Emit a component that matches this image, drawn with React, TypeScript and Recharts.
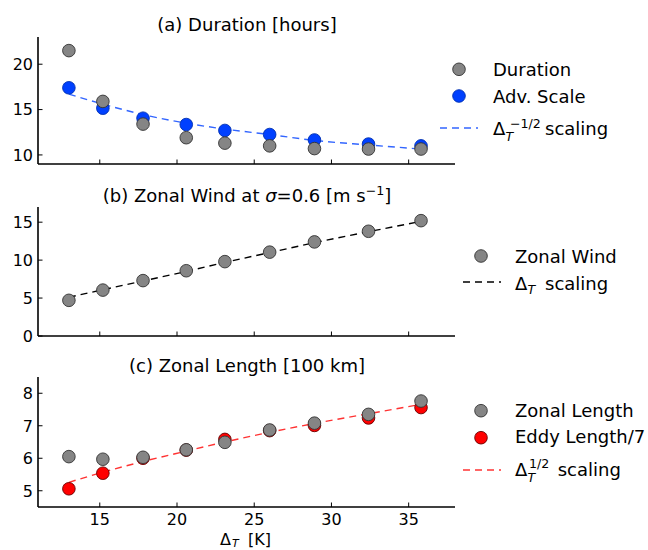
import { ComposedChart, Scatter, Line, XAxis, YAxis, Legend } from 'recharts';

// temperature contrast (x) shared by all three panels
const deltaT = [13.0, 15.2, 17.8, 20.6, 23.1, 26.0, 28.9, 32.4, 35.8];
const xTicks = [15, 20, 25, 30, 35];

// (a) duration [hours]
const duration = [21.5, 15.9, 13.4, 11.9, 11.3, 11.0, 10.7, 10.65, 10.65];
const advScale = [17.4, 15.15, 14.05, 13.35, 12.7, 12.25, 11.65, 11.2, 11.0];
const durationFit = [16.7, 15.6, 14.45, 13.5, 12.85, 12.25, 11.6, 11.1, 10.65];

// (b) zonal wind [m/s]
const zonalWind = [4.7, 6.05, 7.3, 8.6, 9.8, 11.05, 12.4, 13.8, 15.2];
const windFit = [5.1, 6.1, 7.25, 8.5, 9.7, 11.0, 12.3, 13.75, 15.1];

// (c) zonal length [100 km]
const zonalLength = [6.05, 5.97, 6.03, 6.26, 6.49, 6.87, 7.08, 7.35, 7.76];
const eddyLength = [5.06, 5.54, 6.0, 6.25, 6.58, 6.85, 7.01, 7.24, 7.56];
const lengthFit = [5.26, 5.57, 5.9, 6.22, 6.5, 6.8, 7.07, 7.37, 7.66];

const rows = deltaT.map((x, i) => ({
  x,
  duration: duration[i],
  advScale: advScale[i],
  durationFit: durationFit[i],
  zonalWind: zonalWind[i],
  windFit: windFit[i],
  zonalLength: zonalLength[i],
  eddyLength: eddyLength[i],
  lengthFit: lengthFit[i],
}));

const FONT = '"DejaVu Sans", sans-serif';
const GRAY = '#858585';
const BLUE = '#0040ff';
const BLUE_LINE = '#3366ff';
const RED = '#ff0000';
const RED_LINE = '#ff3333';
const DASH = '7 5';
const axisStyle = { stroke: '#000', strokeWidth: 1.6 };

const makeDot = (fill: string, stroke: string) => (props: any) =>
  <circle cx={props.cx} cy={props.cy} r={6.3} fill={fill} stroke={stroke} strokeWidth={0.9} />;

const grayDot = makeDot(GRAY, '#333');
const blueDot = makeDot(BLUE, '#0030b0');
const redDot = makeDot(RED, '#600');

const XTick = (props: any) => {
  const { x, y, payload, show } = props;
  return (
    <g>
      <line x1={x} x2={x} y1={y} y2={y - 4.5} stroke="#000" strokeWidth={1} />
      {show && (
        <text x={x} y={y + 17.5} textAnchor="middle" fontSize={16} fontFamily={FONT} fill="#000">
          {payload.value}
        </text>
      )}
    </g>
  );
};

const YTick = (props: any) => {
  const { x, y, payload } = props;
  return (
    <g>
      <line x1={x} x2={x + 4.5} y1={y} y2={y} stroke="#000" strokeWidth={1} />
      <text x={x - 5} y={y + 5.8} textAnchor="end" fontSize={16} fontFamily={FONT} fill="#000">
        {payload.value}
      </text>
    </g>
  );
};

const txt = { fontFamily: FONT, fill: '#000' };

function LegendDot({ cx, cy, fill, stroke }: any) {
  return <circle cx={cx} cy={cy} r={6.3} fill={fill} stroke={stroke} strokeWidth={0.9} />;
}

function Panel({ top, height, plotTop, plotBottom, yDomain, yTicks, showX, overlay, children }: any) {
  return (
    <div style={{ position: 'absolute', left: 0, top }}>
      <ComposedChart
        width={648}
        height={height}
        data={rows}
        margin={{ top: plotTop - top, right: 193, bottom: top + height - plotBottom - 1, left: 0 }}
      >
        <XAxis
          type="number"
          dataKey="x"
          domain={[11, 38]}
          ticks={xTicks}
          interval={0}
          height={1}
          tickSize={0}
          tickMargin={0}
          tickLine={false}
          axisLine={axisStyle}
          tick={<XTick show={showX} />}
        />
        <YAxis
          type="number"
          domain={yDomain}
          ticks={yTicks}
          interval={0}
          width={38}
          tickSize={0}
          tickMargin={0}
          tickLine={false}
          axisLine={axisStyle}
          tick={<YTick />}
        />
        {children}
        <Legend
          layout="vertical"
          align="center"
          verticalAlign="middle"
          wrapperStyle={{ left: 0, top: 0, width: 648, height, pointerEvents: 'none' }}
          content={() => (
            <svg width={648} height={height} style={{ display: 'block' }}>
              <g transform={`translate(0, ${-top})`}>{overlay}</g>
            </svg>
          )}
        />
      </ComposedChart>
    </div>
  );
}

const overlayA = (
  <g>
    <text x={247} y={30.7} textAnchor="middle" fontSize={18} {...txt}>(a) Duration [hours]</text>
    <LegendDot cx={459} cy={69.3} fill={GRAY} stroke="#333" />
    <text x={493} y={76} fontSize={18} {...txt}>Duration</text>
    <LegendDot cx={459} cy={96} fill={BLUE} stroke="#0030b0" />
    <text x={493} y={102.5} fontSize={18} {...txt}>Adv. Scale</text>
    <line x1={440} x2={478} y1={128} y2={128} stroke={BLUE_LINE} strokeWidth={1.4} strokeDasharray={DASH} />
    <text fontSize={18} {...txt}>
      <tspan x={493} y={134.5}>Δ</tspan>
      <tspan x={505.5} y={141} fontSize={12.6} fontStyle="italic">T</tspan>
      <tspan x={510} y={127.5} fontSize={12.6}>−1/2</tspan>
      <tspan x={545} y={134.5}>scaling</tspan>
    </text>
  </g>
);

const overlayB = (
  <g>
    <text x={247} y={201.7} textAnchor="middle" fontSize={18} {...txt}>
      (b) Zonal Wind at <tspan fontStyle="italic">σ</tspan>=0.6 [m s
      <tspan dy={-7} fontSize={12.6}>−1</tspan>
      <tspan dy={7}>]</tspan>
    </text>
    <LegendDot cx={481} cy={256} fill={GRAY} stroke="#333" />
    <text x={515} y={262.7} fontSize={18} {...txt}>Zonal Wind</text>
    <line x1={463} x2={501} y1={282} y2={282} stroke="#000" strokeWidth={1.4} strokeDasharray={DASH} />
    <text fontSize={18} {...txt}>
      <tspan x={515} y={290}>Δ</tspan>
      <tspan x={527.5} y={293.5} fontSize={12.6} fontStyle="italic">T</tspan>
      <tspan x={545} y={290}>scaling</tspan>
    </text>
  </g>
);

const overlayC = (
  <g>
    <text x={247} y={372.3} textAnchor="middle" fontSize={18} {...txt}>(c) Zonal Length [100 km]</text>
    <LegendDot cx={481} cy={410.7} fill={GRAY} stroke="#333" />
    <text x={515} y={416.7} fontSize={18} {...txt}>Zonal Length</text>
    <LegendDot cx={481} cy={437.7} fill={RED} stroke="#600" />
    <text x={515} y={443.3} fontSize={18} {...txt}>Eddy Length/7</text>
    <line x1={463} x2={501} y1={470} y2={470} stroke={RED_LINE} strokeWidth={1.4} strokeDasharray={DASH} />
    <text fontSize={18} {...txt}>
      <tspan x={515} y={476}>Δ</tspan>
      <tspan x={527.5} y={481.5} fontSize={12.6} fontStyle="italic">T</tspan>
      <tspan x={529} y={468} fontSize={12.6}>1/2</tspan>
      <tspan x={557.7} y={476}>scaling</tspan>
    </text>
    <text fontSize={16} {...txt}>
      <tspan x={220} y={545}>Δ</tspan>
      <tspan x={232} y={547} fontSize={11} fontStyle="italic">T</tspan>
      <tspan x={248} y={545}>[K]</tspan>
    </text>
  </g>
);

export default function App() {
  return (
    <div style={{ position: 'absolute', left: 0, top: 0, width: 648, height: 550, background: '#fff' }}>
      <Panel top={0} height={175} plotTop={37} plotBottom={164} yDomain={[9, 23]} yTicks={[10, 15, 20]} showX={false} overlay={overlayA}>
        <Line type="monotone" dataKey="durationFit" stroke={BLUE_LINE} strokeWidth={1.4} strokeDasharray={DASH} dot={false} isAnimationActive={false} />
        <Scatter dataKey="advScale" fill={BLUE} shape={blueDot} isAnimationActive={false} />
        <Scatter dataKey="duration" fill={GRAY} shape={grayDot} isAnimationActive={false} />
      </Panel>
      <Panel top={175} height={170} plotTop={207} plotBottom={336} yDomain={[0, 17]} yTicks={[0, 5, 10, 15]} showX={false} overlay={overlayB}>
        <Line type="linear" dataKey="windFit" stroke="#000" strokeWidth={1.4} strokeDasharray={DASH} dot={false} isAnimationActive={false} />
        <Scatter dataKey="zonalWind" fill={GRAY} shape={grayDot} isAnimationActive={false} />
      </Panel>
      <Panel top={345} height={205} plotTop={377} plotBottom={507} yDomain={[4.5, 8.5]} yTicks={[5, 6, 7, 8]} showX={true} overlay={overlayC}>
        <Line type="monotone" dataKey="lengthFit" stroke={RED_LINE} strokeWidth={1.4} strokeDasharray={DASH} dot={false} isAnimationActive={false} />
        <Scatter dataKey="eddyLength" fill={RED} shape={redDot} isAnimationActive={false} />
        <Scatter dataKey="zonalLength" fill={GRAY} shape={grayDot} isAnimationActive={false} />
      </Panel>
    </div>
  );
}
